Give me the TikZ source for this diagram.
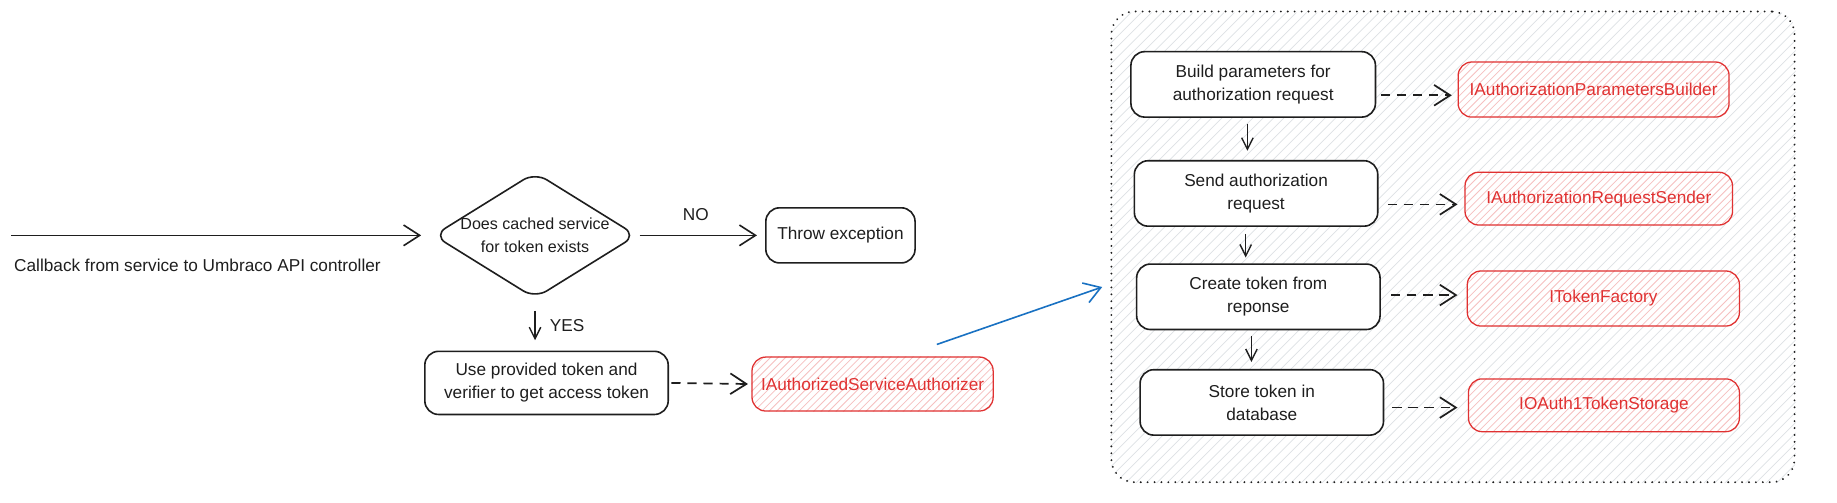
\documentclass[tikz,border=0pt]{standalone}
\usepackage{fontspec}
\setmainfont{Liberation Sans}
\usetikzlibrary{arrows.meta,shapes.geometric}
\definecolor{ink}{HTML}{1E1E1E}
\definecolor{redc}{HTML}{E03131}
\definecolor{bluec}{HTML}{1971C2}
\definecolor{hatchgray}{HTML}{DDE1E5}
\definecolor{hatchred}{HTML}{F6C0C0}
\newcommand{\fs}{\fontsize{7.5}{10}\selectfont}
\newcommand{\fsd}{\fontsize{7}{10}\selectfont}
\pgfdeclarelayer{back}
\pgfdeclarelayer{mid}
\pgfsetlayers{back,mid,main}
\tikzset{
  box/.style={draw=ink, line width=0.7pt, rounded corners=6pt, fill=white,
    align=center, font=\fs, text=ink, inner sep=0pt},
  redbox/.style={draw=redc, line width=0.55pt, rounded corners=6pt,
    align=center, font=\fs, text=redc, inner sep=0pt},
  grpbox/.style={draw=ink, line width=0.9pt, rounded corners=10pt,
    dash pattern=on 0.01pt off 3pt, line cap=round, inner sep=0pt},
  lbl/.style={font=\fs, text=ink, align=center, inner sep=0pt},
  arr/.style={draw=ink, line width=0.7pt, -{Straight Barb[length=7pt,width=9pt]}},
  varr/.style={draw=ink, line width=0.6pt, -{Straight Barb[length=5pt,width=5pt]}},
  darr/.style={draw=ink, line width=0.75pt, dash pattern=on 4pt off 3pt,
    -{Straight Barb[length=7pt,width=9pt,sep=0pt]}},
  barr/.style={draw=bluec, line width=0.7pt, -{Straight Barb[length=7pt,width=9pt]}},
}
\begin{document}
\begin{tikzpicture}[x=0.5pt,y=-0.5pt]
\useasboundingbox (0,0) rectangle (1600,438.1);

% group
\node[grpbox, minimum width=297.5pt, minimum height=205pt] (grp) at (1265.5,215) {};

% left part
\coordinate (in) at (10,205);
\node[diamond, draw=ink, line width=0.7pt, rounded corners=6pt, fill=white,
      minimum width=88.5pt, minimum height=55pt, inner sep=0pt, aspect=1.6] (q) at (466,205) {};
\node[lbl, font=\fsd] (qt) at (466,205) {Does cached service\\for token exists};
\node[lbl] (cb) at (172,231) {Callback from service to Umbraco API controller};
\node[box, minimum width=65pt, minimum height=24pt] (throw) at (732,205) {Throw exception};
\node[box, minimum width=106pt, minimum height=27.5pt] (use) at (476,333.5) {Use provided token and\\verifier to get access token};
\node[redbox, minimum width=105pt, minimum height=23.5pt] (isa) at (760,334.5) {IAuthorizedServiceAuthorizer};

\draw[arr] (in) -- ([xshift=-5pt]q.west);
\draw[arr, shorten <=1pt, shorten >=3.5pt] (q.east) -- (throw.west);
\node[lbl] (no) at (606,187) {NO};
\draw[varr, shorten <=5pt, shorten >=4.5pt] (q.south) -- (q.south |- use.north);
\node[lbl] (yes) at (494,284) {YES};
\draw[darr, shorten <=1pt, shorten >=1.5pt] (use.east) -- (isa.west);
\coordinate (bs) at (816,300);
\coordinate (be) at (960,250);
\draw[barr] (bs) -- (be);

% right part
\node[box, minimum width=106.5pt, minimum height=28.5pt] (build) at (1091.5,73.5) {Build parameters for\\authorization request};
\node[box, minimum width=106pt, minimum height=28.5pt] (send) at (1094,168.5) {Send authorization\\request};
\node[box, minimum width=106pt, minimum height=28.5pt] (create) at (1096,258.5) {Create token from\\reponse};
\node[box, minimum width=106pt, minimum height=28.5pt] (store) at (1099,350.5) {Store token in\\database};

\node[redbox, minimum width=118pt, minimum height=24pt] (iapb) at (1388,78) {IAuthorizationParametersBuilder};
\node[redbox, minimum width=116.5pt, minimum height=23pt] (iars) at (1392.5,173) {IAuthorizationRequestSender};
\node[redbox, minimum width=118.5pt, minimum height=24pt] (itf) at (1396.5,260) {ITokenFactory};
\node[redbox, minimum width=118pt, minimum height=23pt] (iots) at (1397,353) {IOAuth1TokenStorage};

\draw[varr, shorten <=2.5pt, shorten >=4pt] ([xshift=-2.5pt]build.south) -- ([xshift=-2.5pt]build.south |- send.north);
\draw[varr, shorten <=3pt, shorten >=2.5pt] ([xshift=-4.5pt]send.south) -- ([xshift=-4.5pt]send.south |- create.north);
\draw[varr, shorten <=2.5pt, shorten >=3pt] ([xshift=-3pt]create.south) -- ([xshift=-3pt]create.south |- store.north);

\draw[darr, shorten <=2pt, shorten >=2.5pt] ([yshift=-2.5pt]iapb.west -| build.east) -- ([yshift=-2.5pt]iapb.west);
\draw[darr, shorten <=4pt, shorten >=3pt] ([yshift=-2.5pt]iars.west -| send.east) -- ([yshift=-2.5pt]iars.west);
\draw[darr, shorten <=4.5pt, shorten >=4pt] ([yshift=1.5pt]itf.west -| create.east) -- ([yshift=1.5pt]itf.west);
\draw[darr, shorten <=3.5pt, shorten >=4.5pt] ([yshift=-1pt]iots.west -| store.east) -- ([yshift=-1pt]iots.west);

% hatching
\begin{pgfonlayer}{back}
  \begin{scope}
    \fill[white, rounded corners=10pt] (grp.north west) rectangle (grp.south east);
    \clip[rounded corners=10pt] (grp.north west) rectangle (grp.south east);
    \foreach \k in {0,9,...,1010}{
      \draw[hatchgray, line width=0.3pt] ([xshift=\k*0.5pt-205pt]grp.south west) -- ++(410,-410);
    }
  \end{scope}
\end{pgfonlayer}
\begin{pgfonlayer}{mid}
  \foreach \n in {isa,iapb,iars,itf,iots}{
    \begin{scope}
      \fill[white, rounded corners=6pt] (\n.north west) rectangle (\n.south east);
      \clip[rounded corners=6pt] (\n.north west) rectangle (\n.south east);
      \foreach \k in {0,6.5,...,300}{
        \draw[hatchred, line width=0.35pt] ([xshift=\k*0.5pt-25pt]\n.south west) -- ++(50,-50);
      }
    \end{scope}
  }
\end{pgfonlayer}
\end{tikzpicture}
\end{document}
